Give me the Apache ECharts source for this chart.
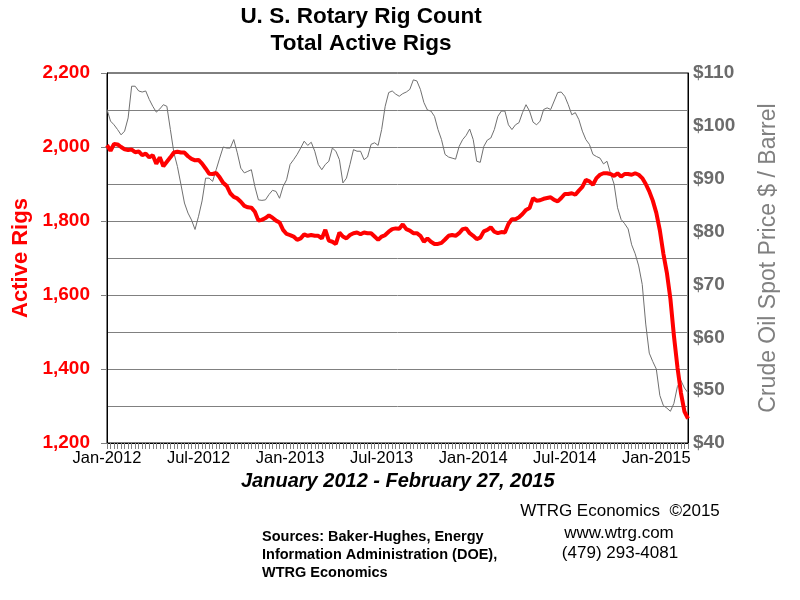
<!DOCTYPE html>
<html>
<head>
<meta charset="utf-8">
<title>U. S. Rotary Rig Count</title>
<script src="https://cdn.jsdelivr.net/npm/echarts@6/dist/echarts.min.js"></script>
<style>
html,body{margin:0;padding:0;background:#fff;}
#rigChart{width:800px;height:600px;}
</style>
</head>
<body>
<div id="rigChart"></div>
<script>
//周数据: 2011-12-30 至 2015-02-27
var firstWeek = new Date(2011, 11, 30);
var weeks = [];
for (var i = 0; i < 166; i++) {
	var d = new Date(firstWeek.getTime() + i * 7 * 86400000);
	weeks.push(d.getFullYear() + "-" + (d.getMonth() + 1) + "-" + d.getDate());
}
var tickLabels = ['Jan-2012', 'Jul-2012', 'Jan-2013', 'Jul-2013', 'Jan-2014', 'Jul-2014', 'Jan-2015'];

//Active rigs (left axis)
var rigs = [
	2005, 1990, 2008, 2007, 2000, 1994, 1992, 1993, 1986, 1988,
	1978, 1982, 1972, 1978, 1955, 1972, 1948, 1960, 1972, 1985,
	1987, 1985, 1985, 1975, 1968, 1964, 1965, 1955, 1942, 1928,
	1927, 1930, 1918, 1903, 1895, 1875, 1865, 1861, 1852, 1841,
	1837, 1836, 1825, 1801, 1803, 1808, 1815, 1809, 1801, 1796,
	1776, 1765, 1762, 1758, 1749, 1753, 1764, 1760, 1762, 1760,
	1760, 1753, 1776, 1747, 1744, 1738, 1769, 1758, 1753, 1762,
	1767, 1769, 1764, 1769, 1767, 1767, 1758, 1749, 1758, 1762,
	1771, 1778, 1780, 1779, 1791, 1778, 1774, 1767, 1767, 1760,
	1744, 1753, 1744, 1738, 1738, 1741, 1750, 1760, 1762, 1760,
	1767, 1778, 1780, 1767, 1760, 1751, 1755, 1772, 1776, 1783,
	1771, 1767, 1770, 1769, 1792, 1805, 1805, 1810, 1819, 1830,
	1835, 1862, 1855, 1856, 1860, 1862, 1864, 1857, 1853, 1862,
	1873, 1873, 1875, 1871, 1882, 1892, 1911, 1907, 1898, 1916,
	1925, 1929, 1929, 1927, 1922, 1929, 1920, 1927, 1927, 1925,
	1929, 1925, 1916, 1900, 1880, 1855, 1822, 1775, 1712, 1660,
	1590, 1490, 1405, 1335, 1285, 1266
];

//Crude oil spot price (right axis)
var oilPrice = [
	103.1, 100.9, 100.2, 99.3, 98.3, 99.0, 101.5, 107.5, 107.5, 106.6,
	106.4, 106.6, 105.0, 103.7, 102.6, 103.2, 104.0, 103.7, 99.3, 94.9,
	92.3, 88.9, 85.4, 83.5, 82.2, 80.4, 82.9, 85.8, 90.1, 90.1,
	89.5, 91.7, 93.9, 96.0, 95.8, 95.8, 97.4, 94.9, 92.0, 91.1,
	91.4, 91.7, 88.5, 86.0, 85.9, 86.0, 87.0, 87.8, 87.6, 86.3,
	88.5, 89.8, 92.7, 93.6, 94.6, 95.8, 97.1, 96.3, 96.9, 95.2,
	92.7, 91.7, 92.7, 93.3, 95.8, 95.2, 93.6, 89.2, 90.1, 92.7,
	95.5, 95.2, 95.2, 93.6, 94.1, 96.5, 96.8, 96.3, 99.3, 103.7,
	106.3, 106.6, 106.0, 105.6, 106.1, 106.4, 106.9, 108.7, 108.5, 106.9,
	104.4, 103.0, 102.8, 101.8, 99.3, 97.4, 94.6, 94.1, 93.9, 93.7,
	96.1, 97.4, 98.2, 99.4, 97.4, 93.3, 93.1, 96.1, 97.3, 97.7,
	99.3, 101.8, 102.8, 102.8, 100.2, 99.3, 100.2, 100.6, 102.5, 104.0,
	102.8, 100.7, 100.2, 100.9, 103.1, 103.4, 103.1, 104.7, 106.3, 106.4,
	105.6, 104.0, 102.1, 102.5, 101.2, 99.0, 97.4, 96.5, 94.6, 94.2,
	93.9, 92.8, 93.3, 91.0, 89.0, 84.5, 82.3, 81.5, 80.5, 77.5,
	75.8, 73.5, 70.0, 62.5, 57.0, 55.4, 54.0, 49.0, 47.1, 46.6,
	46.0, 47.5, 50.7, 51.8, 50.4, 49.5
];

var fontName = 'Liberation Sans, Arial, sans-serif';
var gridGray = '#808080';

function thousands(v){
	var s = String(v);
	return s.length > 3 ? s.slice(0, s.length - 3) + ',' + s.slice(s.length - 3) : s;
}

var chart = echarts.init(document.getElementById('rigChart'));
var option = {
	animation: false,
	backgroundColor: '#fff',
	title: {
		text: 'U. S. Rotary Rig Count\nTotal Active Rigs',
		left: 361,
		top: 3,
		padding: 0,
		textAlign: 'center',
		textStyle: {fontFamily: fontName, fontSize: 22.5, fontWeight: 'bold', color: '#000', lineHeight: 27}
	},
	grid: {
		left: 107,
		right: 112,
		top: 73,
		bottom: 157,
		show: true,
		borderColor: '#000',
		borderWidth: 1,
		backgroundColor: 'transparent'
	},
	xAxis: {
		type: 'category',
		boundaryGap: false,
		data: weeks,
		axisLine: {lineStyle: {color: '#000', width: 1}},
		axisTick: {show: true, interval: 0, length: 6, lineStyle: {color: gridGray}},
		axisLabel: {
			interval: 25,
			margin: 7,
			color: '#000',
			fontFamily: fontName,
			fontSize: 16.5,
			formatter: function(value, index){
				return tickLabels[index / 26] || '';
			}
		},
		splitLine: {show: false}
	},
	yAxis: [{
		type: 'value',
		min: 1200,
		max: 2200,
		interval: 200,
		name: 'Active Rigs',
		nameLocation: 'middle',
		nameGap: 70,
		nameTextStyle: {fontFamily: fontName, fontSize: 22, fontWeight: 'bold', color: '#ff0000'},
		axisLine: {show: true, lineStyle: {color: '#000', width: 1}},
		axisTick: {show: true, length: 6, lineStyle: {color: gridGray}},
		minorTick: {show: false, splitNumber: 2},
		minorSplitLine: {show: true, lineStyle: {color: gridGray, width: 1}},
		axisLabel: {
			margin: 17,
			color: '#ff0000',
			fontFamily: fontName,
			fontSize: 19,
			fontWeight: 'bold',
			formatter: function(v){ return thousands(v); }
		},
		splitLine: {show: true, showMinLine: false, showMaxLine: false, lineStyle: {color: gridGray, width: 1}}
	}, {
		type: 'value',
		min: 40,
		max: 110,
		interval: 10,
		position: 'right',
		name: 'Crude Oil Spot Price $ / Barrel',
		nameLocation: 'middle',
		nameGap: 69,
		nameTextStyle: {fontFamily: fontName, fontSize: 23, color: '#808080'},
		axisLine: {show: true, lineStyle: {color: '#000', width: 1}},
		axisTick: {show: false},
		axisLabel: {
			margin: 5,
			color: '#6b6b6b',
			fontFamily: fontName,
			fontSize: 19,
			fontWeight: 'bold',
			formatter: '${value}'
		},
		splitLine: {show: false}
	}],
	series: [{
		name: 'Crude Oil',
		type: 'line',
		yAxisIndex: 1,
		data: oilPrice,
		showSymbol: false,
		lineStyle: {color: '#707070', width: 1},
		z: 2
	}, {
		name: 'Active Rigs',
		type: 'line',
		yAxisIndex: 0,
		data: rigs,
		showSymbol: false,
		lineStyle: {color: '#ff0000', width: 4},
		z: 3
	}],
	graphic: [
		{type: 'text', x: 241, y: 481, style: {text: 'January 2012 - February 27, 2015', fontFamily: fontName, fontSize: 20, fontWeight: 'bold', fontStyle: 'italic', fill: '#000', verticalAlign: 'middle'}},
		{type: 'text', x: 620, y: 511, style: {text: 'WTRG Economics  \u00a92015', fontFamily: fontName, fontSize: 17, fill: '#000', align: 'center', verticalAlign: 'middle'}},
		{type: 'text', x: 619, y: 533, style: {text: 'www.wtrg.com', fontFamily: fontName, fontSize: 17, fill: '#000', align: 'center', verticalAlign: 'middle'}},
		{type: 'text', x: 620, y: 553, style: {text: '(479) 293-4081', fontFamily: fontName, fontSize: 17, fill: '#000', align: 'center', verticalAlign: 'middle'}},
		{type: 'text', x: 262, y: 537, style: {text: 'Sources: Baker-Hughes, Energy', fontFamily: fontName, fontSize: 14.5, fontWeight: 'bold', fill: '#000', verticalAlign: 'middle'}},
		{type: 'text', x: 262, y: 555, style: {text: 'Information Administration (DOE),', fontFamily: fontName, fontSize: 14.5, fontWeight: 'bold', fill: '#000', verticalAlign: 'middle'}},
		{type: 'text', x: 262, y: 573, style: {text: 'WTRG Economics', fontFamily: fontName, fontSize: 14.5, fontWeight: 'bold', fill: '#000', verticalAlign: 'middle'}}
	]
};
chart.setOption(option);
</script>
</body>
</html>
